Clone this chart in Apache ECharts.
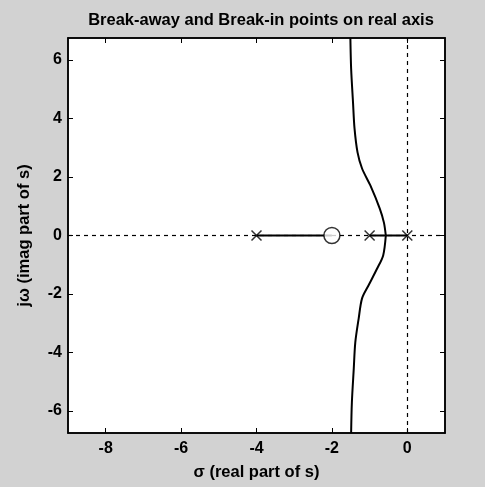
<!DOCTYPE html>
<html>
<head>
<meta charset="utf-8">
<script src="https://cdn.jsdelivr.net/npm/echarts@6/dist/echarts.min.js"></script>
<style>
html,body{margin:0;padding:0;background:#d2d2d2;}
#c{width:485px;height:487px;}
</style>
</head>
<body>
<div id="c"></div>
<script>
// ---- data ----
var title = 'Break-away and Break-in points on real axis';
var xName = 'σ (real part of s)';
var yName = 'jω (imag part of s)';
var xTicks = [-8, -6, -4, -2, 0];
var yTicks = [-6, -4, -2, 0, 2, 4, 6];
var xRange = [-9, 1];
var yRange = [-6.75, 6.75];
var poles = [[-4, 0], [-1, 0], [0, 0]];
var zeros = [[-2, 0]];
var upperBranch = [[-0.57,0],[-0.62,0.44],[-0.73,0.92],[-0.98,1.71],[-1.2,2.29],[-1.32,2.84],[-1.4,3.66],[-1.44,4.55],[-1.49,5.71],[-1.51,6.75]];
var lowerBranch = [[-0.57,0],[-0.64,-0.68],[-0.8,-1.13],[-1.03,-1.71],[-1.2,-2.15],[-1.29,-2.84],[-1.38,-3.66],[-1.42,-4.55],[-1.47,-5.7],[-1.49,-6.75]];
var realSeg1 = [[-4,0],[-2,0]];
var realSeg2 = [[-1,0],[-0.57,0]];
var realSeg3 = [[0,0],[-0.57,0]];

var font = '"Liberation Sans", Arial, sans-serif';
var chart = echarts.init(document.getElementById('c'));
function lineSeries(d, smooth){
  return {type:'line', data:d, showSymbol:false, symbol:'none', smooth:smooth||false,
    lineStyle:{color:'#000', width:2}, animation:false, z:3};
}
chart.setOption({
  backgroundColor:'#d2d2d2',
  animation:false,
  title:{text:title, left:256, textAlign:'center', top:7,
    textStyle:{fontFamily:font, fontSize:16.5, fontWeight:'bold', color:'#000'}},
  grid:{left:68, right:40, top:38, bottom:54, show:true, backgroundColor:'#fff', borderColor:'#000', borderWidth:1.5},
  xAxis:[{
    type:'value', min:xRange[0], max:xRange[1],
    name:xName, nameLocation:'middle', nameGap:31,
    nameTextStyle:{fontFamily:font, fontSize:16.5, fontWeight:'bold', color:'#000'},
    axisLine:{show:true, onZero:false, lineStyle:{color:'#000', width:1.5}},
    axisTick:{show:true, inside:true, length:5, customValues:xTicks, lineStyle:{color:'#000'}},
    axisLabel:{customValues:xTicks, margin:8, fontFamily:font, fontSize:16, fontWeight:'bold', color:'#000'},
    splitLine:{show:false}
  },{
    type:'value', position:'top', min:xRange[0], max:xRange[1],
    axisLine:{show:true, onZero:false, lineStyle:{color:'#000', width:1.5}},
    axisTick:{show:true, inside:true, length:5, customValues:xTicks, lineStyle:{color:'#000'}},
    axisLabel:{show:false}, splitLine:{show:false}
  }],
  yAxis:[{
    type:'value', min:yRange[0], max:yRange[1],
    name:yName, nameLocation:'middle', nameGap:35,
    nameTextStyle:{fontFamily:font, fontSize:16.5, fontWeight:'bold', color:'#000'},
    axisLine:{show:true, onZero:false, lineStyle:{color:'#000', width:1.5}},
    axisTick:{show:true, inside:true, length:5, customValues:yTicks, lineStyle:{color:'#000'}},
    axisLabel:{customValues:yTicks, margin:6, fontFamily:font, fontSize:16, fontWeight:'bold', color:'#000'},
    splitLine:{show:false}
  },{
    type:'value', position:'right', min:yRange[0], max:yRange[1],
    axisLine:{show:true, onZero:false, lineStyle:{color:'#000', width:1.5}},
    axisTick:{show:true, inside:true, length:5, customValues:yTicks, lineStyle:{color:'#000'}},
    axisLabel:{show:false}, splitLine:{show:false}
  }],
  series:[
    {type:'line', data:[], markLine:{silent:true, symbol:'none', label:{show:false},
      lineStyle:{color:'#000', type:[4,4], width:1.2},
      data:[{xAxis:0},{yAxis:0}]}},
    lineSeries(upperBranch, 0.3),
    lineSeries(lowerBranch, 0.3),
    lineSeries(realSeg1),
    lineSeries(realSeg2),
    lineSeries(realSeg3),
    {type:'scatter', data:poles, symbol:'path://M0,0L10,10M10,0L0,10', symbolSize:10,
      itemStyle:{color:'none', borderColor:'#000', borderWidth:1.5}, z:5},
    {type:'scatter', data:zeros, symbol:'circle', symbolSize:16,
      itemStyle:{color:'#fff', borderColor:'#000', borderWidth:1.5}, z:5}
  ]
});
</script>
</body>
</html>
